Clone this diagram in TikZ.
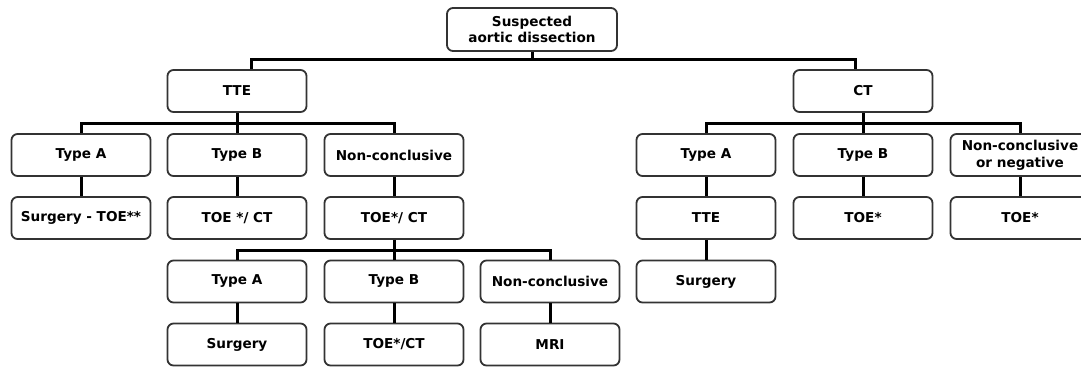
\documentclass[tikz,border=0pt]{standalone}
\usepackage{fontspec}
\setmainfont{DejaVu Sans}
\begin{document}
\begin{tikzpicture}[x=1pt,y=-1pt,
  box/.style={draw=black!80, line width=1.8pt, rounded corners=6pt, fill=white,
    minimum width=139pt, minimum height=42pt, inner sep=0pt, align=center,
    font=\fontsize{13.6}{16.7}\selectfont\bfseries},
  link/.style={line width=3pt, draw=black}]
\useasboundingbox (0,0) rectangle (1081,368);
% nodes
\node[box, minimum width=170pt, minimum height=43pt] (top) at (532,29.5) {Suspected\\aortic dissection};
\node[box] (tte) at (237,91) {TTE};
\node[box] (ct) at (863,91) {CT};
\node[box] (a1) at (81,155) {Type A};
\node[box] (b1) at (237,155) {Type B};
\node[box] (n1) at (394,155) {Non-conclusive};
\node[box] (a2) at (706,155) {Type A};
\node[box] (b2) at (863,155) {Type B};
\node[box] (n2) at (1020,155) {Non-conclusive\\or negative};
\node[box] (s1) at (81,218) {Surgery - TOE**};
\node[box] (t1) at (237,218) {TOE */ CT};
\node[box] (t2) at (394,218) {TOE*/ CT};
\node[box] (r1) at (706,218) {TTE};
\node[box] (r2) at (863,218) {TOE*};
\node[box] (r3) at (1020,218) {TOE*};
\node[box] (a3) at (237,281.5) {Type A};
\node[box] (b3) at (394,281.5) {Type B};
\node[box] (n3) at (550,281.5) {Non-conclusive};
\node[box] (rs) at (706,281.5) {Surgery};
\node[box] (s3) at (237,344.5) {Surgery};
\node[box] (t3) at (394,344.5) {TOE*/CT};
\node[box] (m3) at (550,344.5) {MRI};
% bar coordinates
\coordinate (L0) at (251,59);
\coordinate (R0) at (855,59);
\coordinate (y1) at (0,123);
\coordinate (y4) at (0,250);
% connectors
\draw[link] (top.south) -- (top.south |- L0);
\draw[link] (tte.north -| L0) -- (L0) -- (R0) -- (ct.north -| R0);
\draw[link] (tte.south) -- (tte.south |- y1);
\draw[link] (a1.north) -- (a1.north |- y1) -- (n1.north |- y1) -- (n1.north);
\draw[link] (b1.north) -- (b1.north |- y1);
\draw[link] (ct.south) -- (ct.south |- y1);
\draw[link] (a2.north) -- (a2.north |- y1) -- (n2.north |- y1) -- (n2.north);
\draw[link] (b2.north) -- (b2.north |- y1);
\draw[link] (a1) -- (s1);
\draw[link] (b1) -- (t1);
\draw[link] (n1) -- (t2);
\draw[link] (a2) -- (r1);
\draw[link] (b2) -- (r2);
\draw[link] (n2) -- (r3);
\draw[link] (t2.south) -- (t2.south |- y4);
\draw[link] (a3.north) -- (a3.north |- y4) -- (n3.north |- y4) -- (n3.north);
\draw[link] (b3.north) -- (b3.north |- y4);
\draw[link] (r1) -- (rs);
\draw[link] (a3) -- (s3);
\draw[link] (b3) -- (t3);
\draw[link] (n3) -- (m3);
\end{tikzpicture}
\end{document}
